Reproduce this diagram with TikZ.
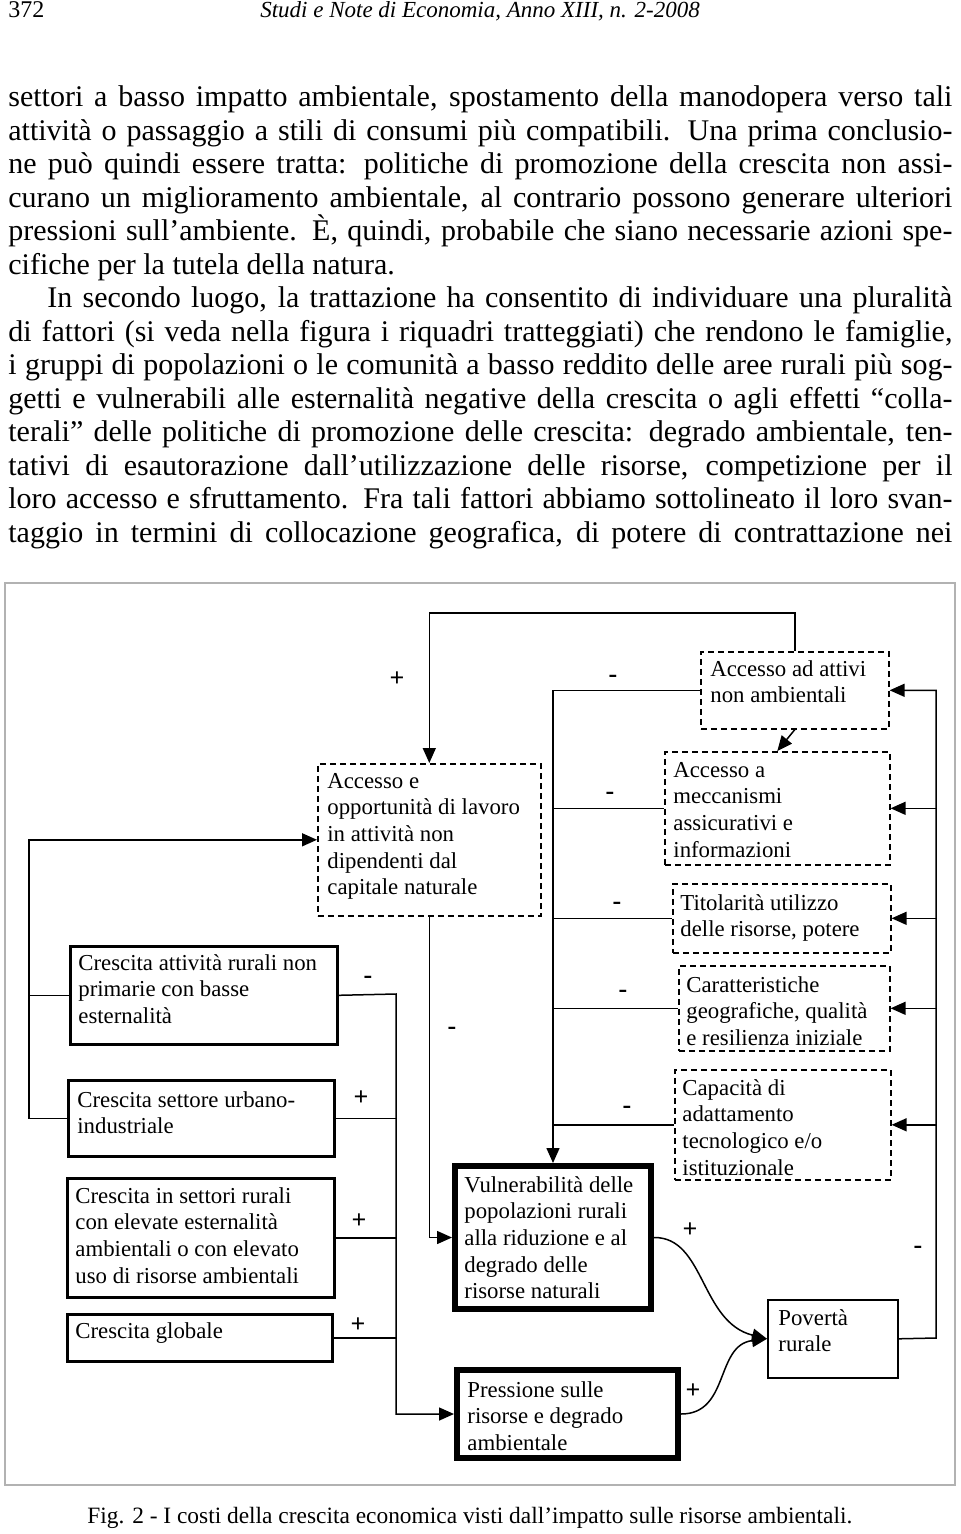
\documentclass[tikz,border=0pt]{standalone}
\usepackage{fontspec}
\setmainfont{Liberation Serif}
\usetikzlibrary{arrows.meta}
\tikzset{
	body/.style={anchor=base west, inner sep=0pt, font=\fontsize{15}{18}\selectfont},
	hdr/.style={inner sep=0pt, font=\fontsize{12}{14}\selectfont},
	frame/.style={draw=black!30, line width=1pt},
	dbox/.style={draw, anchor=north west, dash pattern=on 3pt off 2pt, line width=0.8pt, inner sep=0pt},
	sbox/.style={draw, anchor=north west, line width=1.3pt, inner sep=0pt},
	tbox/.style={draw, anchor=north west, line width=3pt, inner sep=0pt},
	pbox/.style={draw, anchor=north west, line width=0.8pt, inner sep=0pt},
	btxt/.style={anchor=base west, inner sep=0pt, font=\fontsize{11.4}{13.35}\selectfont},
	sign/.style={inner sep=0pt, font=\fontsize{13}{14}\selectfont\bfseries},
	link/.style={line width=0.75pt},
	arr/.style={link, -{Triangle[length=7.5pt,width=6.5pt]}}
}
\begin{document}
\begin{tikzpicture}[x=0.5pt,y=-0.5pt]
		\useasboundingbox (0,0) rectangle (960,1534);
		% testata
		\node[hdr, anchor=base west] (pag) at (8,18) {372};
		\node[hdr, anchor=base, font=\fontsize{11.5}{14}\selectfont\itshape] (rivista) at (480,18) {Studi e Note di Economia, Anno XIII, n. 2-2008};
		% testo
		\node[body] (l1) at (8,107) {\makebox[472pt][s]{settori a basso impatto ambientale, spostamento della manodopera verso tali}};
		\node[body] (l2) at (8,140.5) {\makebox[472pt][s]{attività o passaggio a stili di consumi più compatibili. Una prima conclusio-}};
		\node[body] (l3) at (8,174) {\makebox[472pt][s]{ne può quindi essere tratta: politiche di promozione della crescita non assi-}};
		\node[body] (l4) at (8,207.4) {\makebox[472pt][s]{curano un miglioramento ambientale, al contrario possono generare ulteriori}};
		\node[body] (l5) at (8,240.8) {\makebox[472pt][s]{pressioni sull’ambiente. È, quindi, probabile che siano necessarie azioni spe-}};
		\node[body] (l6) at (8,274.3) {cifiche per la tutela della natura.};
		\node[body] (l7) at (47,307.8) {\makebox[452.5pt][s]{In secondo luogo, la trattazione ha consentito di individuare una pluralità}};
		\node[body] (l8) at (8,341.2) {\makebox[472pt][s]{di fattori (si veda nella figura i riquadri tratteggiati) che rendono le famiglie,}};
		\node[body] (l9) at (8,374.7) {\makebox[472pt][s]{i gruppi di popolazioni o le comunità a basso reddito delle aree rurali più sog-}};
		\node[body] (l10) at (8,408.1) {\makebox[472pt][s]{getti e vulnerabili alle esternalità negative della crescita o agli effetti “colla-}};
		\node[body] (l11) at (8,441.6) {\makebox[472pt][s]{terali” delle politiche di promozione delle crescita: degrado ambientale, ten-}};
		\node[body] (l12) at (8,475) {\makebox[472pt][s]{tativi di esautorazione dall’utilizzazione delle risorse, competizione per il}};
		\node[body] (l13) at (8,508.5) {\makebox[472pt][s]{loro accesso e sfruttamento. Fra tali fattori abbiamo sottolineato il loro svan-}};
		\node[body] (l14) at (8,542) {\makebox[472pt][s]{taggio in termini di collocazione geografica, di potere di contrattazione nei}};
		% figura
		\draw[frame] (5,583) rectangle (955,1485);
		\node[dbox, minimum width=94pt, minimum height=38.5pt] (attivi) at (700,651) {};
		\node[btxt] (attivi-t) at (710,676) {\parbox[t]{150pt}{Accesso ad attivi\\non ambientali}};
		\node[dbox, minimum width=112.5pt, minimum height=56.5pt] (mecc) at (664,751) {};
		\node[btxt] (mecc-t) at (673,777) {\parbox[t]{150pt}{Accesso a\\meccanismi\\assicurativi e\\informazioni}};
		\node[dbox, minimum width=111.5pt, minimum height=76pt] (lavoro) at (317,763) {};
		\node[btxt] (lavoro-t) at (327,788) {\parbox[t]{150pt}{Accesso e\\opportunità di lavoro\\in attività non\\dipendenti dal\\capitale naturale}};
		\node[dbox, minimum width=109pt, minimum height=34.5pt] (titol) at (672,883) {};
		\node[btxt] (titol-t) at (680,910) {\parbox[t]{150pt}{Titolarità utilizzo\\delle risorse, potere}};
		\node[dbox, minimum width=105.5pt, minimum height=42.5pt] (caratt) at (678,965) {};
		\node[btxt] (caratt-t) at (686,992) {\parbox[t]{150pt}{Caratteristiche\\geografiche, qualità\\e resilienza iniziale}};
		\node[dbox, minimum width=108pt, minimum height=55pt] (capac) at (674,1069) {};
		\node[btxt] (capac-t) at (682,1095) {\parbox[t]{150pt}{Capacità di\\adattamento\\tecnologico e/o\\istituzionale}};
		\node[sbox, minimum width=133.5pt, minimum height=49pt] (rurali) at (69,945) {};
		\node[btxt] (rurali-t) at (78,970) {\parbox[t]{150pt}{Crescita attività rurali non\\primarie con basse\\esternalità}};
		\node[sbox, minimum width=133pt, minimum height=38pt] (urbano) at (67,1079) {};
		\node[btxt] (urbano-t) at (77,1107) {\parbox[t]{150pt}{Crescita settore urbano-\\industriale}};
		\node[sbox, minimum width=133.5pt, minimum height=59.5pt] (settori) at (66,1177) {};
		\node[btxt] (settori-t) at (75,1203) {\parbox[t]{150pt}{Crescita in settori rurali\\con elevate esternalità\\ambientali o con elevato\\uso di risorse ambientali}};
		\node[sbox, minimum width=132.5pt, minimum height=23.5pt] (globale) at (66,1313) {};
		\node[btxt] (globale-t) at (75,1338) {Crescita globale};
		\node[tbox, minimum width=98pt, minimum height=71.5pt] (vulner) at (452,1163) {};
		\node[btxt] (vulner-t) at (464,1192) {\parbox[t]{150pt}{Vulnerabilità delle\\popolazioni rurali\\alla riduzione e al\\degrado delle\\risorse naturali}};
		\node[tbox, minimum width=110.5pt, minimum height=44pt] (press) at (454,1367) {};
		\node[btxt] (press-t) at (467,1397) {\parbox[t]{150pt}{Pressione sulle\\risorse e degrado\\ambientale}};
		\node[pbox, minimum width=65pt, minimum height=39pt] (poverta) at (767,1299) {};
		\node[btxt] (poverta-t) at (778,1325) {\parbox[t]{150pt}{Povertà\\rurale}};
		% bus
		\coordinate (rbus) at (936,1338);
		\coordinate (cbus) at (553,689);
		\coordinate (wbus) at (29,840);
		\coordinate (mbus) at (396,994);
		% connettori
		\draw[arr] (attivi.north) -- ++(0,-38) -| (lavoro.north);
		\draw[arr] (attivi.south) -- (mecc.north);
		\draw[arr] (poverta.east) -- (rbus) |- (attivi.east);
		\draw[arr] (mecc.east -| rbus) -- (mecc.east);
		\draw[arr] (titol.east -| rbus) -- (titol.east);
		\draw[arr] (caratt.east -| rbus) -- (caratt.east);
		\draw[arr] (capac.east -| rbus) -- (capac.east);
		\draw[arr] (attivi.west) -| (vulner.north);
		\draw[link] (mecc.west) -- (mecc.west -| cbus);
		\draw[link] (titol.west) -- (titol.west -| cbus);
		\draw[link] (caratt.west) -- (caratt.west -| cbus);
		\draw[link] (capac.west) -- (capac.west -| cbus);
		\draw[arr] (urbano.west) -- (urbano.west -| wbus) |- (lavoro.west);
		\draw[link] (rurali.west) -- (rurali.west -| wbus);
		\draw[arr] (rurali.east) -- (mbus) |- (press.west);
		\draw[link] (urbano.east) -- (urbano.east -| mbus);
		\draw[link] (settori.east) -- (settori.east -| mbus);
		\draw[link] (globale.east) -- (globale.east -| mbus);
		\draw[arr] (lavoro.south) |- (vulner.west);
		\draw[arr] (vulner.east) .. controls (705,1237) and (700,1322) .. (poverta.west);
		\draw[arr] (press.east) .. controls (730,1414) and (715,1345) .. (poverta.west);
		% segni
		\node[sign] (s1) at (397,679) {+};
		\node[sign] (s2) at (613,679) {-};
		\node[sign] (s3) at (610,796) {-};
		\node[sign] (s4) at (617,906) {-};
		\node[sign] (s5) at (623,994) {-};
		\node[sign] (s6) at (627,1110) {-};
		\node[sign] (s7) at (368,980) {-};
		\node[sign] (s8) at (361,1098) {+};
		\node[sign] (s9) at (359,1221) {+};
		\node[sign] (s10) at (358,1325) {+};
		\node[sign] (s11) at (452,1031) {-};
		\node[sign] (s12) at (690,1230) {+};
		\node[sign] (s13) at (693,1391) {+};
		\node[sign] (s14) at (918,1250) {-};
		% didascalia
		\node[body, font=\fontsize{11.7}{14}\selectfont] (didasc) at (87,1523) {Fig. 2 - I costi della crescita economica visti dall’impatto sulle risorse ambientali.};
\end{tikzpicture}
\end{document}
